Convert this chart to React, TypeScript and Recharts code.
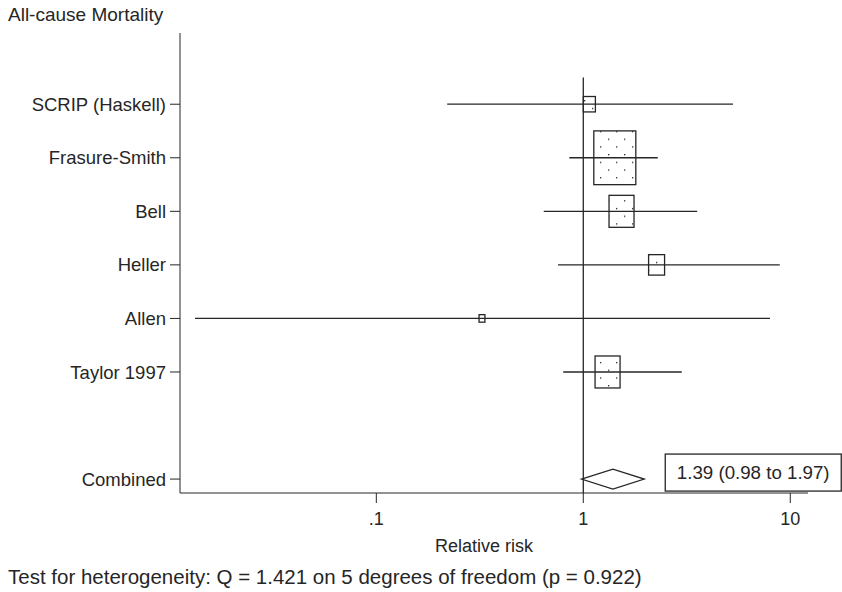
import { ComposedChart, ReferenceLine, Scatter, XAxis, YAxis } from 'recharts';

// study rows (top to bottom)
const studies = ['SCRIP (Haskell)', 'Frasure-Smith', 'Bell', 'Heller', 'Allen', 'Taylor 1997'];
const relRisk = [1.07, 1.42, 1.53, 2.26, 0.324, 1.31];
const ciLow = [0.22, 0.856, 0.644, 0.755, 0.0133, 0.8];
const ciHigh = [5.29, 2.29, 3.55, 8.9, 7.98, 2.99];
const weights = [4.2, 51.1, 18.1, 7.4, 1.0, 18.1]; // % weight, drives box size

const combinedName = 'Combined';
const combinedRR = 1.39;
const combinedLow = 0.98;
const combinedHigh = 1.97;
const combinedRow = 8;

const xTicks = [0.1, 1, 10];
const xTickLabels = ['.1', '1', '10'];

const FONT = '"Liberation Sans", Arial, Helvetica, sans-serif';
const INK = '#262626';

export default function App() {
  const rows = studies.map((name, i) => ({
    name,
    x: relRisk[i],
    y: i + 1,
    lo: ciLow[i],
    hi: ciHigh[i],
    w: weights[i],
  }));
  const maxW = Math.max(...weights);

  const yTicks = [...rows.map((r) => r.y), combinedRow];
  const yLabel = (v: number) => (v === combinedRow ? combinedName : studies[v - 1] ?? '');
  const xLabel = (v: number) => xTickLabels[xTicks.indexOf(v)] ?? String(v);

  const renderBox = (props: any) => {
    const { cx, cy, payload } = props;
    const side = 42 * Math.sqrt(payload.w / maxW);
    const h = side * 1.28;
    return (
      <rect
        x={cx - side / 2}
        y={cy - h / 2}
        width={side}
        height={h}
        fill="url(#stipple)"
        stroke={INK}
        strokeWidth={1.3}
      />
    );
  };

  const renderDiamond = (props: any) => {
    const { x1, y1, x2 } = props;
    // centre at the pooled estimate on the log scale
    const t = (Math.log(combinedRR) - Math.log(combinedLow)) / (Math.log(combinedHigh) - Math.log(combinedLow));
    const mx = x1 + (x2 - x1) * t;
    const half = 10;
    const boxX = x2 + 21;
    return (
      <g>
        <polygon
          points={`${x1},${y1} ${mx},${y1 - half} ${x2},${y1} ${mx},${y1 + half}`}
          fill="none"
          stroke={INK}
          strokeWidth={1.3}
        />
        <rect x={boxX} y={y1 - 25} width={176} height={37} fill="#fff" stroke={INK} strokeWidth={1.3} />
        <text
          x={boxX + 88}
          y={y1 - 6.5}
          textAnchor="middle"
          dominantBaseline="central"
          fontSize={18.7}
          fill={INK}
          fontFamily={FONT}
        >
          {`${combinedRR.toFixed(2)} (${combinedLow.toFixed(2)} to ${combinedHigh.toFixed(2)})`}
        </text>
      </g>
    );
  };

  return (
    <div style={{ position: 'absolute', left: 0, top: 0, width: 842, height: 592, background: '#fff', fontFamily: FONT }}>
      <div style={{ position: 'absolute', left: 8, top: 4, fontSize: 19, color: INK, whiteSpace: 'nowrap' }}>
        All-cause Mortality
      </div>
      <ComposedChart width={842} height={592} margin={{ top: 33, right: 34, bottom: 0, left: 0 }}>
        <defs>
          <pattern id="stipple" patternUnits="userSpaceOnUse" width={16} height={15.4}>
            <rect x={0} y={0} width={1.3} height={1.3} fill={INK} />
            <rect x={8} y={7.7} width={1.3} height={1.3} fill={INK} />
          </pattern>
        </defs>
        <XAxis
          type="number"
          dataKey="x"
          scale="log"
          domain={[0.01126, 12.18]}
          allowDataOverflow
          ticks={xTicks}
          tickFormatter={xLabel}
          height={99}
          tickSize={10}
          tickMargin={9}
          stroke={INK}
          tick={{ fill: INK, fontSize: 18, fontFamily: FONT }}
        />
        <YAxis
          type="number"
          dataKey="y"
          reversed
          domain={[-0.33, 8.26]}
          allowDataOverflow
          ticks={yTicks}
          interval={0}
          tickFormatter={yLabel}
          width={180}
          tickSize={10}
          tickMargin={4}
          stroke={INK}
          tick={{ fill: INK, fontSize: 18.5, fontFamily: FONT }}
        />
        <ReferenceLine
          segment={[
            { x: 1, y: 0.5 },
            { x: 1, y: 8.26 },
          ]}
          stroke={INK}
          strokeWidth={1.3}
        />
        {rows.map((r) => (
          <ReferenceLine
            key={r.name}
            segment={[
              { x: r.lo, y: r.y },
              { x: r.hi, y: r.y },
            ]}
            stroke={INK}
            strokeWidth={1.3}
          />
        ))}
        <Scatter data={rows} dataKey="y" shape={renderBox} isAnimationActive={false} />
        <ReferenceLine
          segment={[
            { x: combinedLow, y: combinedRow },
            { x: combinedHigh, y: combinedRow },
          ]}
          shape={renderDiamond}
        />
      </ComposedChart>
      <div style={{ position: 'absolute', left: 0, width: 968, top: 536, textAlign: 'center', fontSize: 18, color: INK }}>
        Relative risk
      </div>
      <div style={{ position: 'absolute', left: 8, top: 565, fontSize: 20.5, color: INK, whiteSpace: 'nowrap' }}>
        Test for heterogeneity: Q = 1.421 on 5 degrees of freedom (p = 0.922)
      </div>
    </div>
  );
}
